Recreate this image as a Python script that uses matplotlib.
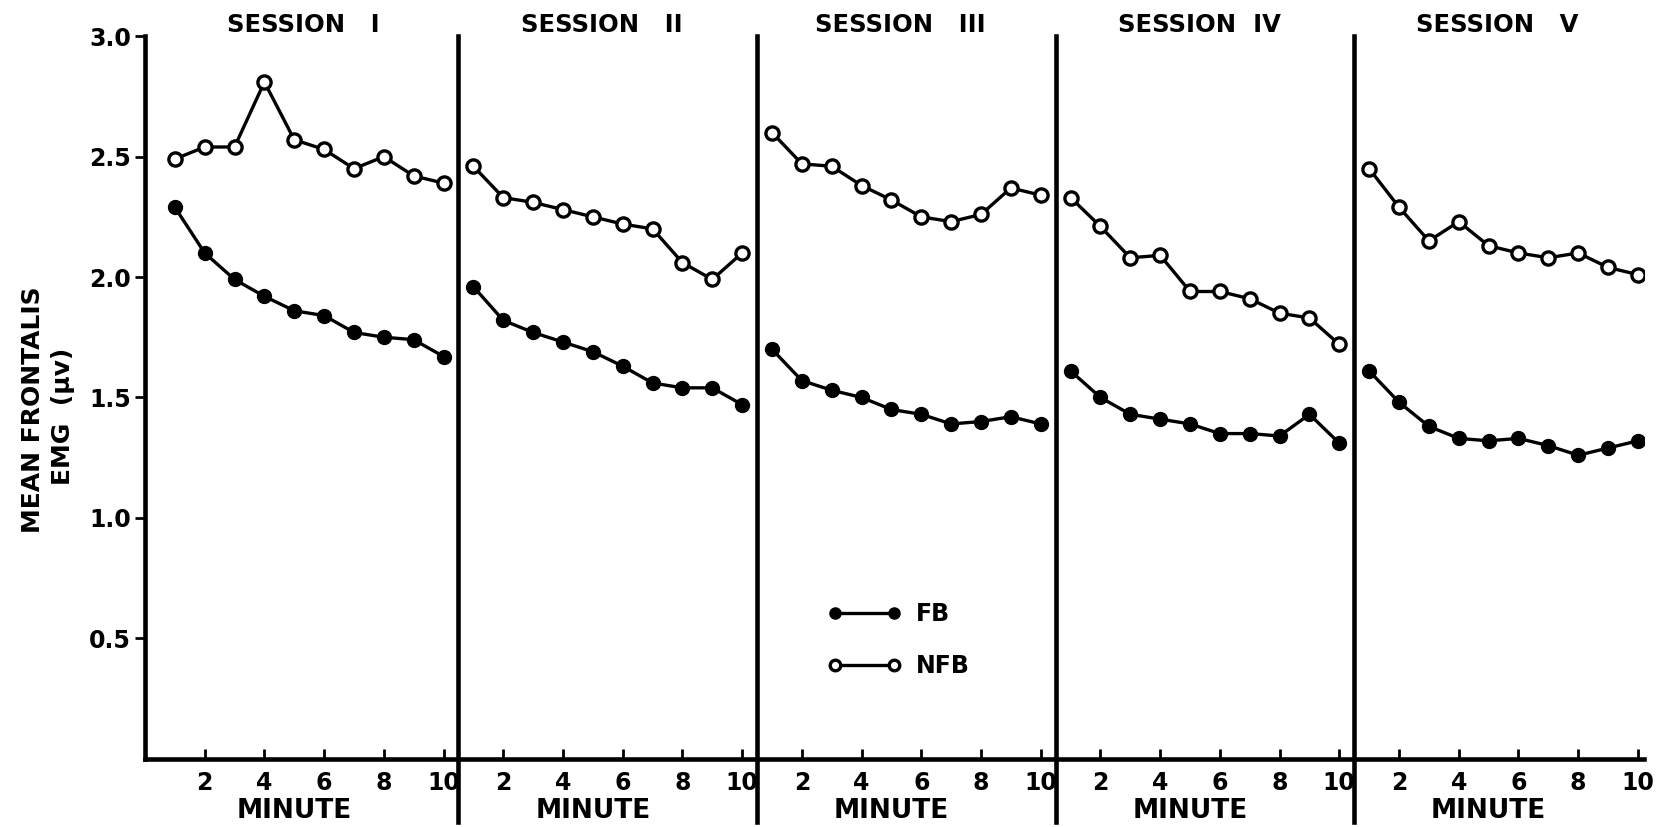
import matplotlib
matplotlib.use("Agg")
import matplotlib.pyplot as plt
import numpy as np

sessions = ["SESSION   I", "SESSION   II", "SESSION   III", "SESSION  IV", "SESSION   V"]
minutes = [1, 2, 3, 4, 5, 6, 7, 8, 9, 10]

fb = [
    [2.29, 2.10, 1.99, 1.92, 1.86, 1.84, 1.77, 1.75, 1.74, 1.67],
    [1.96, 1.82, 1.77, 1.73, 1.69, 1.63, 1.56, 1.54, 1.54, 1.47],
    [1.70, 1.57, 1.53, 1.50, 1.45, 1.43, 1.39, 1.40, 1.42, 1.39],
    [1.61, 1.50, 1.43, 1.41, 1.39, 1.35, 1.35, 1.34, 1.43, 1.31],
    [1.61, 1.48, 1.38, 1.33, 1.32, 1.33, 1.30, 1.26, 1.29, 1.32],
]
nfb = [
    [2.49, 2.54, 2.54, 2.81, 2.57, 2.53, 2.45, 2.50, 2.42, 2.39],
    [2.46, 2.33, 2.31, 2.28, 2.25, 2.22, 2.20, 2.06, 1.99, 2.10],
    [2.60, 2.47, 2.46, 2.38, 2.32, 2.25, 2.23, 2.26, 2.37, 2.34],
    [2.33, 2.21, 2.08, 2.09, 1.94, 1.94, 1.91, 1.85, 1.83, 1.72],
    [2.45, 2.29, 2.15, 2.23, 2.13, 2.10, 2.08, 2.10, 2.04, 2.01],
]
yticks = [0.5, 1.0, 1.5, 2.0, 2.5, 3.0]
xtick_labels = ["2", "4", "6", "8", "10"]

plt.rcParams['font.family'] = ['DejaVu Sans']
plt.rcParams['font.weight'] = 'bold'

fig = plt.figure(figsize=(16.74, 8.27), dpi=100)
ax = fig.add_axes([0.0866, 0.0826, 0.8954, 0.8736])

lw = 2.4
n = len(sessions)
span = len(minutes)
for i in range(n):
    xs = [i * span + m for m in minutes]
    ax.plot(xs, fb[i], color='black', lw=lw, marker='o', markersize=10,
            markerfacecolor='black', markeredgecolor='black',
            label='FB' if i == 0 else None, zorder=3)
    ax.plot(xs, nfb[i], color='black', lw=lw, marker='o', markersize=9.5,
            markerfacecolor='white', markeredgecolor='black', markeredgewidth=2.4,
            label='NFB' if i == 0 else None, zorder=3)
    ax.text(i * span + 5.3, 1.016, sessions[i], transform=ax.get_xaxis_transform(),
            ha='center', va='center', fontsize=17.5, fontweight='bold')
    ax.text(i * span + 5.0, -0.072, "MINUTE", transform=ax.get_xaxis_transform(),
            ha='center', va='center', fontsize=19, fontweight='bold')
    if i < n - 1:
        ax.axvline((i + 1) * span + 0.5, ymin=-0.088, ymax=1.0, color='black',
                   lw=3.3, clip_on=False, zorder=4)

ax.set_xlim(0, n * span + 0.2)
ax.set_ylim(0, 3.0)

xt = [i * span + int(t) for i in range(n) for t in xtick_labels]
ax.set_xticks(xt)
ax.set_xticklabels(xtick_labels * n, fontsize=17, fontweight='bold')
ax.tick_params(axis='x', direction='in', length=7, width=2, pad=9)

ax.set_yticks(yticks)
ax.set_yticklabels([f"{v:.1f}" for v in yticks], fontsize=17, fontweight='bold')
ax.tick_params(axis='y', direction='out', length=7, width=2, pad=3)

for s in ['top', 'right']:
    ax.spines[s].set_visible(False)
for s in ['left', 'bottom']:
    ax.spines[s].set_linewidth(3.3)

fig.text(0.0195, 0.505, "MEAN FRONTALIS", rotation=90, ha='center', va='center',
         fontsize=18, fontweight='bold')
fig.text(0.0375, 0.497, "EMG  (\u03bcv)", rotation=90, ha='center', va='center',
         fontsize=18, fontweight='bold')

leg = ax.legend(loc='center left', bbox_to_anchor=(0.448, 0.164), frameon=False,
                fontsize=17, handlelength=3.1, handletextpad=0.6, labelspacing=1.2,
                numpoints=2, markerscale=0.8, borderpad=0)

fig.savefig("out.png", dpi=100, facecolor='white')
